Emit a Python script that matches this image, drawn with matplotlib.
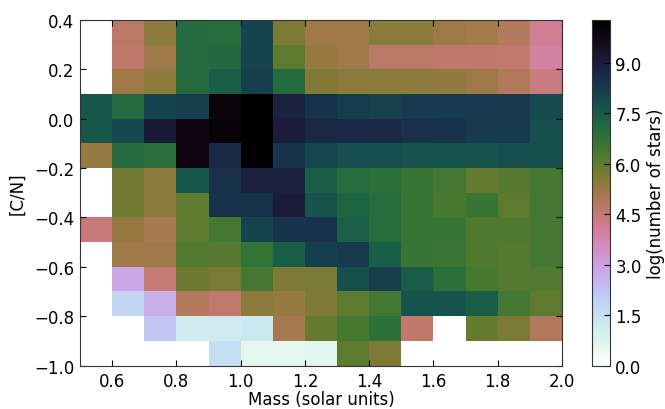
import numpy as np
import matplotlib
matplotlib.use("Agg")
import matplotlib.pyplot as plt

# bin edges of the 2D histogram
mass_edges = [0.5, 0.6, 0.7, 0.8, 0.9, 1.0, 1.1, 1.2, 1.3, 1.4, 1.5, 1.6, 1.7, 1.8, 1.9, 2.0]
cn_edges = [0.4, 0.3, 0.2, 0.1, 0.0, -0.1, -0.2, -0.3, -0.4, -0.5, -0.6, -0.7, -0.8, -0.9, -1.0]

# log(number of stars), rows from top ([C/N] 0.4) to bottom ([C/N] -1.0)
row_00 = [0, 4.72, 5.4, 7.05, 6.95, 8.05, 5.6, 5.14, 5.2, 5.45, 5.45, 5.2, 5.08, 4.8, 4.1]
row_01 = [0, 4.62, 5.14, 7.05, 7.1, 8.05, 6.05, 5.27, 5.14, 4.72, 4.72, 4.62, 4.62, 4.6, 3.95]
row_02 = [0, 5.14, 5.4, 7.05, 7.4, 8.15, 7.05, 5.55, 5.45, 5.45, 5.4, 5.35, 5.2, 4.88, 4.3]
row_03 = [7.55, 7.05, 8.05, 8.15, 9.95, 10.27, 8.85, 8.5, 8.2, 8.1, 8.25, 8.25, 8.25, 8.25, 7.9]
row_04 = [7.55, 7.95, 9.1, 9.85, 10.05, 10.27, 9.0, 8.7, 8.7, 8.7, 8.5, 8.4, 8.25, 8.25, 7.8]
row_05 = [5.27, 7.05, 6.9, 9.85, 8.7, 10.27, 8.4, 8.0, 7.8, 7.8, 7.7, 7.7, 7.7, 7.8, 7.8]
row_06 = [0, 5.75, 5.4, 7.55, 8.5, 8.85, 8.85, 7.4, 7.0, 6.85, 6.6, 6.4, 5.95, 6.16, 6.4]
row_07 = [0, 5.75, 5.4, 6.05, 8.5, 8.5, 9.0, 7.7, 7.25, 6.95, 6.6, 6.35, 6.6, 6.05, 6.4]
row_08 = [4.42, 5.27, 5.03, 6.05, 6.4, 8.05, 8.4, 8.5, 7.35, 6.95, 6.6, 6.6, 6.25, 6.25, 6.4]
row_09 = [0, 5.14, 5.14, 6.16, 6.16, 6.68, 7.4, 8.15, 8.3, 7.4, 6.6, 6.55, 6.25, 6.16, 6.4]
row_10 = [0, 2.88, 4.47, 5.85, 5.65, 6.4, 5.6, 5.65, 7.8, 8.15, 7.5, 6.85, 6.35, 6.16, 6.2]
row_11 = [0, 1.8, 2.67, 4.8, 4.6, 5.4, 5.27, 5.6, 6.05, 6.4, 7.7, 7.7, 7.4, 6.4, 6.05]
row_12 = [0, 0, 2.15, 1.13, 1.13, 1.28, 5.03, 5.95, 6.35, 6.8, 4.62, 0, 5.95, 5.65, 4.86]
row_13 = [0, 0, 0, 0, 1.55, 0.62, 0.62, 0.67, 6.05, 5.6, 0, 0, 0, 0, 0]

counts = np.array([row_00, row_01, row_02, row_03, row_04, row_05, row_06,
                   row_07, row_08, row_09, row_10, row_11, row_12, row_13])

x_ticks = [0.6, 0.8, 1.0, 1.2, 1.4, 1.6, 1.8, 2.0]
y_ticks = [-1.0, -0.8, -0.6, -0.4, -0.2, 0.0, 0.2, 0.4]
cbar_ticks = [0.0, 1.5, 3.0, 4.5, 6.0, 7.5, 9.0]

plt.rcParams['font.family'] = 'DejaVu Sans'
plt.rcParams['font.size'] = 12
plt.rcParams['xtick.direction'] = 'in'
plt.rcParams['ytick.direction'] = 'in'
plt.rcParams['xtick.top'] = True
plt.rcParams['ytick.right'] = True
plt.rcParams['xtick.major.size'] = 4
plt.rcParams['ytick.major.size'] = 4
plt.rcParams['xtick.major.pad'] = 5
plt.rcParams['ytick.major.pad'] = 4

fig = plt.figure(figsize=(6.65, 4.10), dpi=100)
ax = fig.add_axes([0.1203, 0.106, 0.7248, 0.843])
cax = fig.add_axes([0.890, 0.106, 0.027, 0.843])

mesh = ax.pcolormesh(mass_edges, cn_edges, counts, cmap='cubehelix_r',
                     vmin=0, vmax=counts.max())
ax.set_xlim(0.5, 2.0)
ax.set_ylim(-1.0, 0.4)
ax.set_xticks(x_ticks)
ax.set_yticks(y_ticks)
ax.set_xlabel('Mass (solar units)', labelpad=0)
ax.set_ylabel('[C/N]', labelpad=6)
for s in ax.spines.values():
    s.set_color('#333333')

cb = fig.colorbar(mesh, cax=cax)
cb.set_ticks(cbar_ticks)
cb.ax.tick_params(direction='in', length=4)
cb.set_label('log(number of stars)')
cb.outline.set_edgecolor('#333333')

fig.savefig('out.png', dpi=100)
